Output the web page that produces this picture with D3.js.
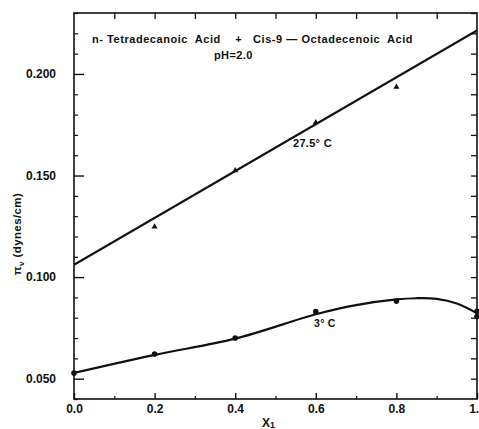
<!DOCTYPE html>
<html>
<head>
<meta charset="utf-8">
<script src="https://cdn.jsdelivr.net/npm/d3@7"></script>
<style>
  html, body { margin: 0; padding: 0; background: #fff; }
  svg text { font-family: "Liberation Sans", Arial, sans-serif; font-weight: bold; fill: #111; }
</style>
</head>
<body>
<svg id="chart" width="479" height="429"></svg>
<script>
// Mole fraction of n-tetradecanoic acid
const moleFractions = [0.0, 0.2, 0.4, 0.6, 0.8, 1.0];

// Measured surface pressure (dynes/cm), 27.5 °C (triangles)
const warmX = [0.2, 0.4, 0.6, 0.8];
const warmValues = [0.1248, 0.1525, 0.1761, 0.1936];
// Fitted straight line, 27.5 °C
const warmFitX = [0.0, 1.0];
const warmFitValues = [0.1061, 0.2214];

// Measured surface pressure (dynes/cm), 3 °C (dots)
const coldX = [0.0, 0.2, 0.4, 0.6, 0.8, 1.0, 1.0];
const coldValues = [0.0528, 0.0621, 0.0700, 0.0830, 0.0882, 0.0832, 0.0806];
// Smooth curve through the 3 °C points
const coldFitX = [0.0, 0.2, 0.4, 0.6, 0.7, 0.8, 0.85, 0.9, 0.95, 1.0];
const coldFitValues = [0.0528, 0.0617, 0.0697, 0.0817, 0.0862, 0.0890, 0.0896, 0.0893, 0.0870, 0.0822];

const xMajorTicks = [0.0, 0.2, 0.4, 0.6, 0.8, 1.0];
const xTickLabels = ["0.0", "0.2", "0.4", "0.6", "0.8", "1.0"];
const yMajorTicks = [0.05, 0.10, 0.15, 0.20];
const yTickLabels = ["0.050", "0.100", "0.150", "0.200"];

const svg = d3.select("#chart");
const margin = { left: 74, right: 2, top: 13, bottom: 30 };
const W = 479, H = 429;

const x = d3.scaleLinear().domain([0, 1]).range([margin.left, W - margin.right]);
const y = d3.scaleLinear().domain([0.04, 0.23]).range([H - margin.bottom, margin.top]);

const ink = "#111";

// Frame
svg.append("rect")
  .attr("x", x(0)).attr("y", y(0.23))
  .attr("width", x(1) - x(0)).attr("height", y(0.04) - y(0.23))
  .attr("fill", "none").attr("stroke", ink).attr("stroke-width", 1.6);

const xMinor = d3.range(0, 11).map(i => i / 10);
const yMinor = d3.range(4, 24).map(i => i / 100);

// Bottom axis: inward ticks
const bottom = svg.append("g").attr("transform", `translate(0,${y(0.04)})`)
  .call(d3.axisBottom(x).tickValues(xMajorTicks)
    .tickFormat((d, i) => xTickLabels[i]).tickSizeInner(-6).tickSizeOuter(0).tickPadding(5));
bottom.select(".domain").remove();
bottom.selectAll("line").attr("stroke", ink).attr("stroke-width", 1.4);
bottom.selectAll("text").attr("font-size", 12);
svg.append("g").attr("transform", `translate(0,${y(0.04)})`)
  .call(d3.axisBottom(x).tickValues(xMinor.filter(v => Math.round(v * 10) % 2 === 1))
    .tickSize(-3).tickFormat(""))
  .call(g => g.select(".domain").remove())
  .selectAll("line").attr("stroke", ink).attr("stroke-width", 1.2);

// Top axis ticks
svg.append("g").attr("transform", `translate(0,${y(0.23)})`)
  .call(d3.axisTop(x).tickValues(xMinor.slice(1, 10)).tickSize(-6).tickFormat(""))
  .call(g => g.select(".domain").remove())
  .selectAll("line").attr("stroke", ink).attr("stroke-width", 1.3);

// Left axis
const left = svg.append("g").attr("transform", `translate(${x(0)},0)`)
  .call(d3.axisLeft(y).tickValues(yMajorTicks)
    .tickFormat((d, i) => yTickLabels[i]).tickSizeInner(-10).tickSizeOuter(0).tickPadding(18));
left.select(".domain").remove();
left.selectAll("line").attr("stroke", ink).attr("stroke-width", 1.4);
left.selectAll("text").attr("font-size", 12);
svg.append("g").attr("transform", `translate(${x(0)},0)`)
  .call(d3.axisLeft(y).tickValues(yMinor.filter(v => Math.round(v * 100) % 5 !== 0)).tickSize(-4).tickFormat(""))
  .call(g => g.select(".domain").remove())
  .selectAll("line").attr("stroke", ink).attr("stroke-width", 1.2);

// Right axis ticks
svg.append("g").attr("transform", `translate(${x(1)},0)`)
  .call(d3.axisRight(y).tickValues(yMinor.slice(1)).tickSize(-6).tickFormat(""))
  .call(g => g.select(".domain").remove())
  .selectAll("line").attr("stroke", ink).attr("stroke-width", 1.3);

// Clip lines to the frame
svg.append("clipPath").attr("id", "plotClip")
  .append("rect").attr("x", x(0)).attr("y", y(0.23))
  .attr("width", x(1) - x(0)).attr("height", y(0.04) - y(0.23));

const line = d3.line().x(d => x(d[0])).y(d => y(d[1]));

svg.append("path")
  .datum(d3.zip(warmFitX, warmFitValues))
  .attr("d", line)
  .attr("fill", "none").attr("stroke", ink).attr("stroke-width", 2.2)
  .attr("clip-path", "url(#plotClip)");

svg.append("path")
  .datum(d3.zip(coldFitX, coldFitValues))
  .attr("d", line.curve(d3.curveCatmullRom.alpha(0.5)))
  .attr("fill", "none").attr("stroke", ink).attr("stroke-width", 2.2)
  .attr("clip-path", "url(#plotClip)");

// Markers: triangles for 27.5 °C, dots for 3 °C
svg.append("g").selectAll("path")
  .data(d3.zip(warmX, warmValues))
  .join("path")
  .attr("transform", d => `translate(${x(d[0])},${y(d[1])})`)
  .attr("d", d3.symbol(d3.symbolTriangle, 16))
  .attr("fill", ink);

svg.append("g").selectAll("circle")
  .data(d3.zip(coldX, coldValues))
  .join("circle")
  .attr("cx", d => x(d[0])).attr("cy", d => y(d[1]))
  .attr("r", 2.8).attr("fill", ink);

// Annotations
svg.append("text").attr("x", 92).attr("y", 43).attr("font-size", 11)
  .attr("letter-spacing", 0.55)
  .attr("xml:space", "preserve")
  .text("n- Tetradecanoic  Acid    +   Cis-9 \u2014 Octadecenoic  Acid");
svg.append("text").attr("x", 214).attr("y", 59).attr("font-size", 11)
  .attr("letter-spacing", 0.4).text("pH=2.0");
svg.append("text").attr("x", 293).attr("y", 147).attr("font-size", 11)
  .attr("letter-spacing", 0.3).text("27.5\u00b0 C");
svg.append("text").attr("x", 314).attr("y", 327).attr("font-size", 10.5)
  .attr("letter-spacing", 0.3).text("3\u00b0 C");

// Axis titles
const yTitle = svg.append("text")
  .attr("transform", "translate(21,234) rotate(-90)")
  .attr("text-anchor", "middle").attr("font-size", 11.5).attr("letter-spacing", 0.4);
yTitle.append("tspan").text("\u03c0");
yTitle.append("tspan").attr("font-size", 8).attr("dy", 3).text("v");
yTitle.append("tspan").attr("dy", -3).text(" (dynes/cm)");

const xTitle = svg.append("text").attr("x", 262).attr("y", 427).attr("font-size", 12);
xTitle.append("tspan").text("X");
xTitle.append("tspan").attr("font-size", 9).attr("dy", 1).text("1");
</script>
</body>
</html>
